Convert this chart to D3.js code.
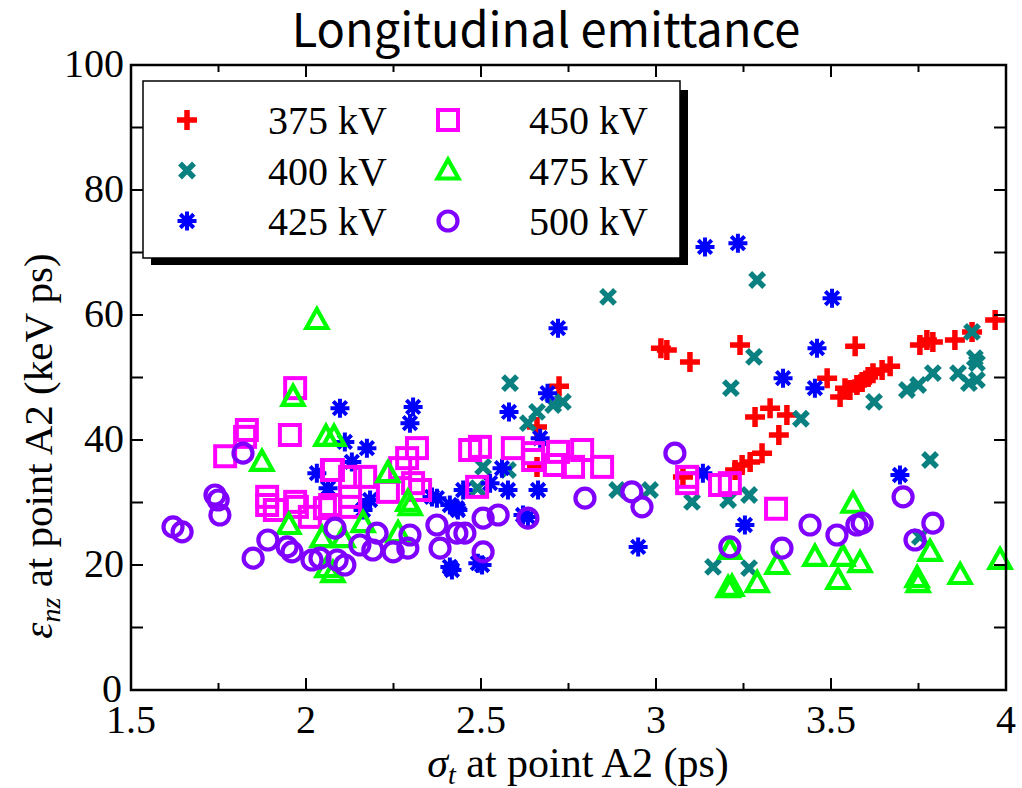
<!DOCTYPE html>
<html>
<head>
<meta charset="utf-8">
<script src="https://cdn.jsdelivr.net/npm/d3@7"></script>
<style>
  body { margin: 0; background: #fff; }
  svg text { font-family: "Liberation Serif", "Times New Roman", serif; }
</style>
</head>
<body>
<svg id="chart" width="1022" height="788"></svg>
<script>
// series data: [sigma_t (ps), emittance (keV ps)]
const kv375 = [[2.723,48.6],[2.66,42.1],[2.66,35.7],[3.014,54.7],[3.031,54.4],[3.097,52.5],[3.077,34.1],
  [3.24,55.2],[3.226,35.2],[3.246,36.0],[3.269,36.5],[3.303,37.9],[3.283,43.7],[3.326,45.1],[3.374,44.0],
  [3.351,40.8],[3.489,49.9],[3.526,46.9],[3.54,48.3],[3.554,48.0],[3.574,48.8],[3.589,49.3],[3.606,50.1],
  [3.62,50.7],[3.646,51.2],[3.669,51.8],[3.569,55.0],[3.754,55.2],[3.774,56.0],[3.791,55.7],[3.854,56.0],
  [3.903,57.3],[3.969,59.2]];
const kv400 = [[2.863,62.9],[2.583,49.1],[2.66,44.5],[2.634,42.7],[2.706,45.6],[2.734,46.1],[2.506,35.7],
  [2.577,35.2],[2.49,32.3],[2.889,32.0],[2.983,32.0],[3.103,30.1],[3.163,19.7],[3.289,65.6],[3.28,53.3],
  [3.214,48.3],[3.414,43.4],[3.623,46.1],[3.717,48.0],[3.749,48.8],[3.791,50.7],[3.863,50.7],[3.894,49.1],
  [3.917,49.6],[3.911,53.1],[3.917,52.3],[3.903,57.3],[3.783,36.8],[3.206,30.4],[3.266,31.2],[3.266,19.5],
  [3.754,24.5]];
const kv425 = [[3.14,70.9],[3.234,71.5],[3.503,62.7],[3.46,54.7],[3.363,49.9],[3.454,48.3],[3.254,26.4],
  [3.697,34.4],[2.72,57.9],[2.58,44.5],[2.69,47.5],[2.669,40.3],[2.56,35.5],[2.577,32.0],[2.663,32.0],
  [2.62,28.0],[2.949,22.9],[2.526,33.1],[2.097,45.1],[2.306,45.3],[2.297,42.7],[2.111,39.7],[2.174,38.7],
  [2.131,36.5],[2.063,32.3],[2.031,34.7],[2.374,30.7],[2.411,29.6],[2.434,28.8],[2.163,28.8],[2.183,30.4],
  [2.449,32.0],[2.411,19.7],[2.491,20.3],[2.36,30.9],[2.431,29.1],[2.417,19.2],[2.503,20.0],[2.634,27.7],
  [3.134,34.7]];
const kv450 = [[1.969,48.3],[1.954,40.8],[1.831,41.6],[1.826,40.5],[1.769,37.4],[1.889,30.9],[1.889,29.6],
  [1.911,28.8],[1.969,30.1],[1.974,29.3],[2.011,27.7],[2.054,29.1],[2.074,35.2],[2.317,38.7],[2.289,37.1],
  [2.269,35.5],[2.077,35.2],[2.126,34.1],[2.169,34.1],[2.069,29.6],[2.126,30.9],[2.126,29.3],[2.234,31.7],
  [2.306,33.1],[2.326,32.0],[2.469,38.4],[2.497,38.9],[2.489,32.5],[2.591,38.7],[2.649,37.9],[2.72,38.1],
  [2.789,38.4],[2.711,36.0],[2.763,35.7],[2.846,35.7],[2.649,36.8],[3.089,34.1],[3.089,33.1],[3.183,32.8],
  [3.211,33.1],[3.343,29.0]];
const kv475 = [[2.031,59.2],[1.963,46.9],[1.874,36.5],[2.057,40.5],[2.08,40.5],[2.234,34.7],[1.951,26.4],
  [2.046,24.3],[2.06,19.5],[2.077,18.7],[2.106,24.3],[2.291,30.1],[2.163,26.7],[2.263,25.1],[2.298,29.4],
  [3.563,29.8],[3.454,21.3],[3.534,21.3],[3.583,20.3],[3.52,17.6],[3.346,20.0],[3.289,17.1],[3.206,16.3],
  [3.217,16.5],[3.746,17.9],[3.749,17.1],[3.783,22.1],[3.869,18.4],[3.983,20.8],[3.211,22.4]];
const kv500 = [[1.62,26.1],[1.646,25.3],[1.74,31.2],[1.749,30.4],[1.754,28.0],[1.82,37.9],[1.849,21.1],
  [1.891,24.0],[1.946,22.9],[1.96,22.1],[2.017,20.8],[2.04,21.1],[2.089,20.8],[2.111,20.0],[2.083,25.9],
  [2.154,23.2],[2.191,22.4],[2.203,25.1],[2.249,22.1],[2.297,24.8],[2.291,22.7],[2.374,26.4],[2.431,25.1],
  [2.454,25.1],[2.383,22.7],[2.506,27.5],[2.549,28.0],[2.506,22.1],[2.634,27.5],[2.797,30.7],[2.931,31.7],
  [2.96,29.3],[3.054,37.9],[3.211,22.9],[3.36,22.7],[3.44,26.4],[3.517,24.8],[3.574,26.4],[3.589,26.7],
  [3.706,30.9],[3.74,24.0],[3.791,26.7]];

const seriesNames = ["375 kV","400 kV","425 kV","450 kV","475 kV","500 kV"];
const seriesData = [kv375, kv400, kv425, kv450, kv475, kv500];
const seriesColors = ["#ff0000","#0a8080","#0000ff","#ff00ff","#00ff00","#8000ff"];
const seriesShapes = ["plus","cross","star","square","triangle","circle"];

const xTicks = [1.5, 2, 2.5, 3, 3.5, 4];
const yTicks = [0, 20, 40, 60, 80, 100];

const svg = d3.select("#chart");
const pL = 131, pR = 1006, pT = 65, pB = 690;
const x = d3.scaleLinear().domain([1.5, 4]).range([pL, pR]);
const y = d3.scaleLinear().domain([0, 100]).range([pB, pT]);

// marker drawing
function marker(g, shape, color) {
  g.attr("fill", "none").attr("stroke", color);
  if (shape === "plus") {
    g.attr("stroke-width", 5.5);
    g.append("path").attr("d", "M-10,0H10M0,-10V10");
  } else if (shape === "cross") {
    g.attr("stroke-width", 5.5);
    g.append("path").attr("d", "M-7,-7L7,7M-7,7L7,-7");
  } else if (shape === "star") {
    g.attr("stroke-width", 4);
    let d = "";
    for (let i = 0; i < 4; i++) {
      const a = i * Math.PI / 4;
      const dx = 9.5 * Math.sin(a), dy = 9.5 * Math.cos(a);
      d += `M${-dx},${-dy}L${dx},${dy}`;
    }
    g.append("path").attr("d", d);
  } else if (shape === "square") {
    g.attr("stroke-width", 4);
    g.append("rect").attr("x", -10).attr("y", -10).attr("width", 20).attr("height", 20);
  } else if (shape === "triangle") {
    g.attr("stroke-width", 4.2).attr("stroke-linejoin", "miter");
    g.append("path").attr("d", "M0,-11L10.5,8L-10.5,8Z");
  } else if (shape === "circle") {
    g.attr("stroke-width", 4.2);
    g.append("circle").attr("r", 9.5);
  }
}

// points
seriesData.forEach((data, i) => {
  svg.append("g").selectAll("g")
    .data(data)
    .enter()
    .append("g")
    .attr("transform", d => `translate(${x(d[0])},${y(d[1])})`)
    .each(function () { marker(d3.select(this), seriesShapes[i], seriesColors[i]); });
});

// ticks (inside)
const tickG = svg.append("g").attr("stroke", "#000").attr("stroke-width", 2);
d3.range(1.5, 4.001, 0.25).forEach(v => {
  const len = (Math.abs(v * 2 - Math.round(v * 2)) < 1e-6) ? 12 : 7;
  tickG.append("line").attr("x1", x(v)).attr("x2", x(v)).attr("y1", pB).attr("y2", pB - len);
  tickG.append("line").attr("x1", x(v)).attr("x2", x(v)).attr("y1", pT).attr("y2", pT + len);
});
d3.range(0, 100.1, 10).forEach(v => {
  tickG.append("line").attr("x1", pL).attr("x2", pL + 12).attr("y1", y(v)).attr("y2", y(v));
  tickG.append("line").attr("x1", pR).attr("x2", pR - 12).attr("y1", y(v)).attr("y2", y(v));
});

// frame
svg.append("rect").attr("x", pL).attr("y", pT).attr("width", pR - pL).attr("height", pB - pT)
  .attr("fill", "none").attr("stroke", "#000").attr("stroke-width", 2.5);

// tick labels
svg.append("g").selectAll("text").data(xTicks).enter().append("text")
  .attr("x", d => x(d)).attr("y", 733).attr("text-anchor", "middle")
  .attr("font-size", 40).text(d => d);
svg.append("g").selectAll("text").data(yTicks).enter().append("text")
  .attr("x", d => d === 0 ? 122 : 124).attr("y", d => y(d) + 12).attr("text-anchor", "end")
  .attr("font-size", 40).text(d => d);

// axis titles
const xt = svg.append("text").attr("x", 578).attr("y", 777).attr("text-anchor", "middle").attr("font-size", 42);
xt.append("tspan").attr("font-style", "italic").text("σ");
xt.append("tspan").attr("font-style", "italic").attr("font-size", 28).attr("dy", 7).text("t");
xt.append("tspan").attr("dy", -7).text(" at point A2 (ps)");

const yt = svg.append("text").attr("transform", "translate(52,446) rotate(-90)")
  .attr("text-anchor", "middle").attr("font-size", 41);
yt.append("tspan").attr("font-style", "italic").text("ε");
yt.append("tspan").attr("font-style", "italic").attr("font-size", 28).attr("dy", 8).text("nz");
yt.append("tspan").attr("dy", -8).text(" at point A2 (keV ps)");

// title
svg.append("text").attr("x", 546).attr("y", 47).attr("text-anchor", "middle")
  .attr("font-size", 47).style("font-family", "'Noto Sans CJK JP', 'Noto Sans', sans-serif")
  .text("Longitudinal emittance");

// legend
const lg = svg.append("g");
lg.append("rect").attr("x", 151).attr("y", 90).attr("width", 537).attr("height", 175).attr("fill", "#000");
lg.append("rect").attr("x", 143).attr("y", 81).attr("width", 537).attr("height", 177)
  .attr("fill", "#fff").attr("stroke", "#000").attr("stroke-width", 1.5);
seriesNames.forEach((name, i) => {
  const col = Math.floor(i / 3), row = i % 3;
  const mx = col === 0 ? 187 : 448;
  const my = 120 + row * 50.5;
  const m = lg.append("g").attr("transform", `translate(${mx},${my})`);
  marker(m, seriesShapes[i], seriesColors[i]);
  lg.append("text").attr("x", col === 0 ? 387 : 648).attr("y", my + 14)
    .attr("text-anchor", "end").attr("font-size", 40).text(name);
});
</script>
</body>
</html>
